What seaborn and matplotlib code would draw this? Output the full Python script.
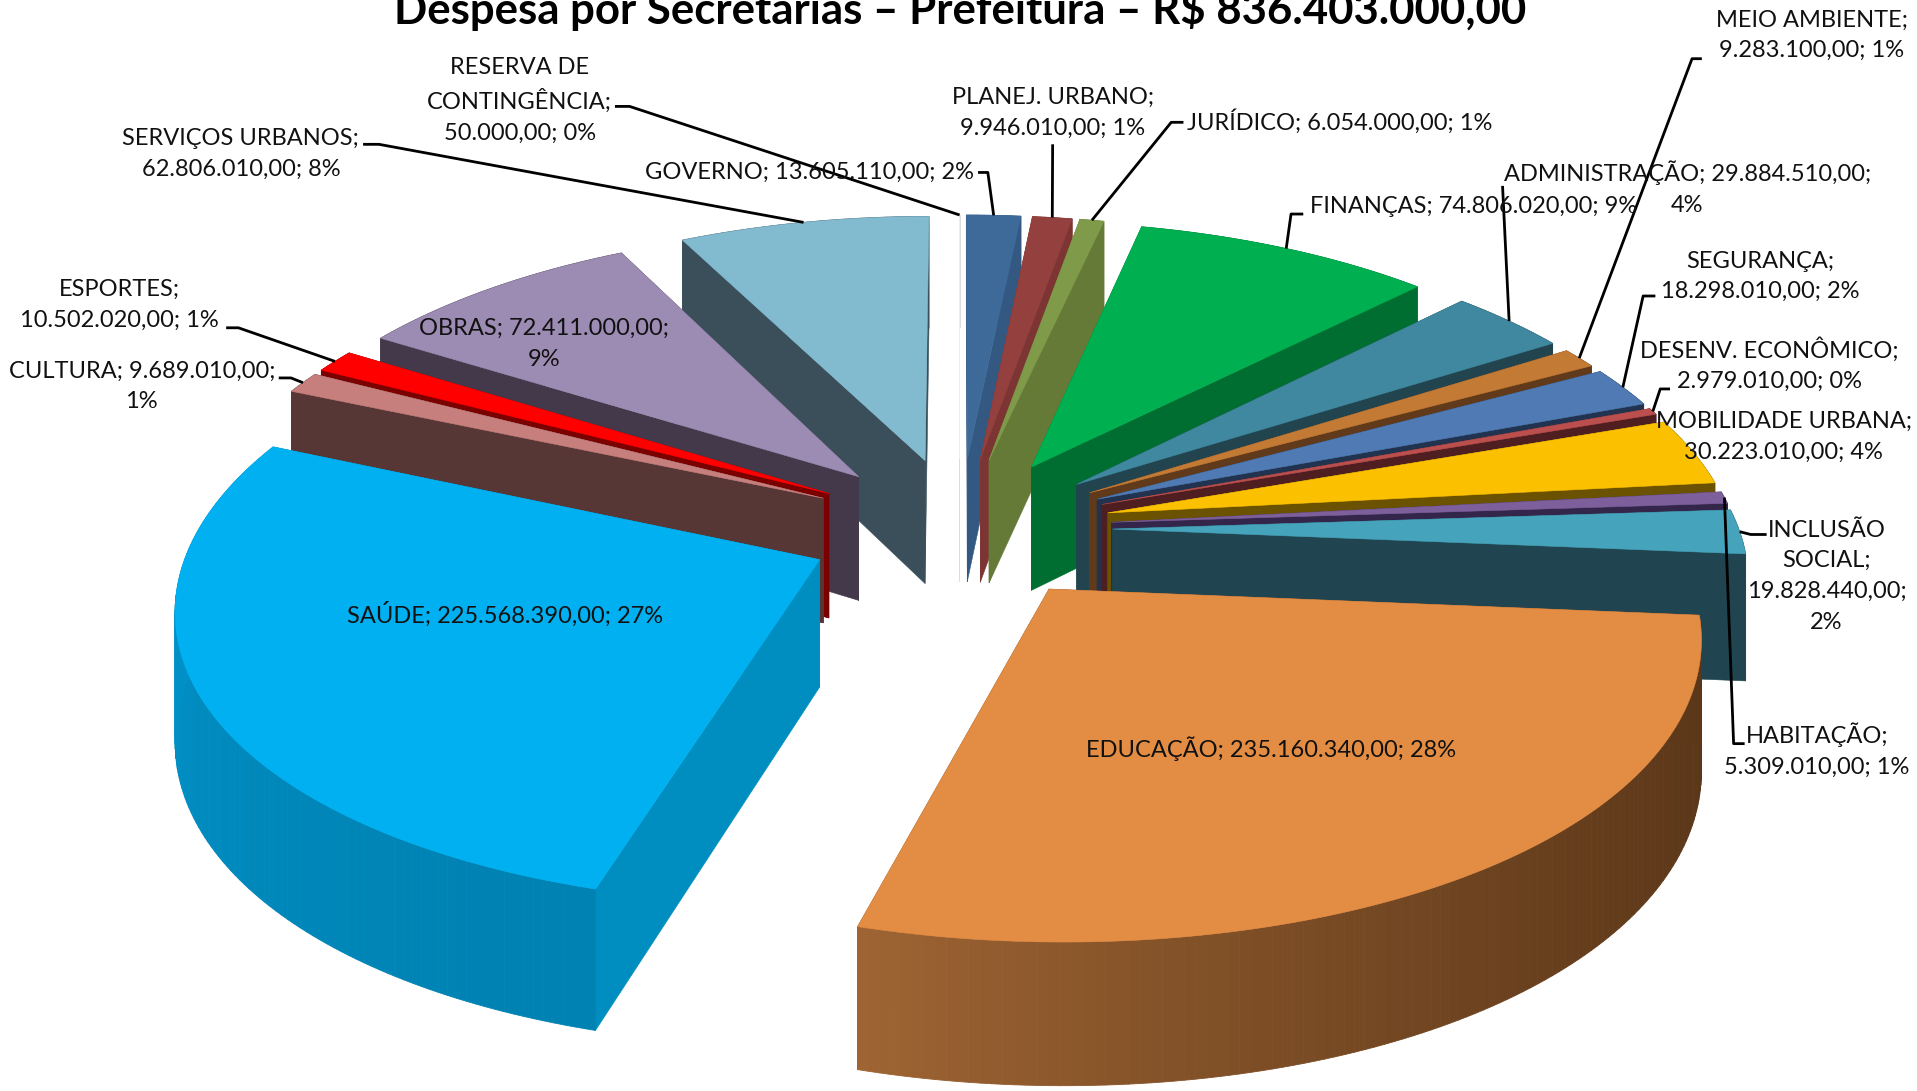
import numpy as np
import pandas as pd
import matplotlib
matplotlib.use("Agg")
import matplotlib.pyplot as plt
from matplotlib.colors import to_rgb
import seaborn as sns

# ---------- data ----------
categories = ["GOVERNO", "PLANEJ. URBANO", "JURÍDICO", "FINANÇAS", "ADMINISTRAÇÃO", "MEIO AMBIENTE",
              "SEGURANÇA", "DESENV. ECONÔMICO", "MOBILIDADE URBANA", "HABITAÇÃO", "INCLUSÃO SOCIAL",
              "EDUCAÇÃO", "SAÚDE", "CULTURA", "ESPORTES", "OBRAS", "SERVIÇOS URBANOS",
              "RESERVA DE CONTINGÊNCIA"]
values = [13605110, 9946010, 6054000, 74806020, 29884510, 9283100, 18298010, 2979010, 30223010,
          5309010, 19828440, 235160340, 225568390, 9689010, 10502020, 72411000, 62806010, 50000]
value_labels = ["13.605.110,00", "9.946.010,00", "6.054.000,00", "74.806.020,00", "29.884.510,00",
                "9.283.100,00", "18.298.010,00", "2.979.010,00", "30.223.010,00", "5.309.010,00",
                "19.828.440,00", "235.160.340,00", "225.568.390,00", "9.689.010,00", "10.502.020,00",
                "72.411.000,00", "62.806.010,00", "50.000,00"]
percents = ["2%", "1%", "1%", "9%", "4%", "1%", "2%", "0%", "4%", "1%", "2%", "28%", "27%", "1%", "1%", "9%", "8%", "0%"]
title = "Despesa por Secretarias – Prefeitura – R$ 836.403.000,00"

top_colors = ["#3E6A99", "#93403E", "#7F9A48", "#00B050", "#3F889F", "#C27A35", "#4F7AB3", "#BA4F4D", "#FBC000",
              "#7D5F9B", "#46A3BC", "#E38C43", "#00B0F0", "#C77F7D", "#FF0000", "#9C8BB3", "#82BAD0", "#EFEDED"]
wall_colors = ["#335982", "#7D3533", "#667A38", "#006E31", "#21444F", "#613A1B", "#21334F", "#4F1E20", "#6B5200",
               "#33264A", "#204550", "#7A4D25", "#008DBF", "#573636", "#7B0000", "#43394B", "#3A4F59", "#DDDBDB"]
rim_gradient = {"EDUCAÇÃO": ("#5A3618", "#9E6433", 1.8), "SAÚDE": ("#0082B2", "#0098D2", 1.3)}

# layout of the labels (in the 1568 x 892 frame)
label_text = {
    "GOVERNO": "GOVERNO; {v}; {p}", "PLANEJ. URBANO": "PLANEJ. URBANO;\n{v}; {p}", "JURÍDICO": "JURÍDICO; {v}; {p}",
    "FINANÇAS": "FINANÇAS; {v}; {p}", "ADMINISTRAÇÃO": "ADMINISTRAÇÃO; {v};\n{p}", "MEIO AMBIENTE": "MEIO AMBIENTE;\n{v}; {p}",
    "SEGURANÇA": "SEGURANÇA;\n{v}; {p}", "DESENV. ECONÔMICO": "DESENV. ECONÔMICO;\n{v}; {p}",
    "MOBILIDADE URBANA": "MOBILIDADE URBANA;\n{v}; {p}", "HABITAÇÃO": "HABITAÇÃO;\n{v}; {p}",
    "INCLUSÃO SOCIAL": "INCLUSÃO\nSOCIAL;\n{v};\n{p}", "EDUCAÇÃO": "EDUCAÇÃO; {v}; {p}", "SAÚDE": "SAÚDE; {v}; {p}",
    "CULTURA": "CULTURA; {v};\n{p}", "ESPORTES": "ESPORTES;\n{v}; {p}", "OBRAS": "OBRAS; {v};\n{p}",
    "SERVIÇOS URBANOS": "SERVIÇOS URBANOS;\n{v}; {p}", "RESERVA DE CONTINGÊNCIA": "RESERVA DE\nCONTINGÊNCIA;\n{v}; {p}",
}
label_xy = [(662, 141), (861, 92), (1096, 99), (1205, 169), (1380, 154), (1482, 29), (1440, 226), (1447, 298),
            (1459, 357), (1486, 613), (1494, 471), (1040, 612), (413, 502), (116, 316), (98, 249), (445, 281),
            (197, 126), (425, 82)]
leader_elbows = {
    "GOVERNO": [(800, 141), (808, 141)], "PLANEJ. URBANO": [(861, 118)], "JURÍDICO": [(968, 100), (958, 100)],
    "FINANÇAS": [(1066, 175), (1056, 175)], "ADMINISTRAÇÃO": [(1229, 152)], "MEIO AMBIENTE": [(1392, 48), (1384, 48)],
    "SEGURANÇA": [(1354, 242), (1344, 242)], "DESENV. ECONÔMICO": [(1366, 318), (1358, 318)],
    "HABITAÇÃO": [(1427, 608), (1418, 608)], "INCLUSÃO SOCIAL": [(1445, 437), (1432, 437)],
    "CULTURA": [(228, 309), (238, 309)], "ESPORTES": [(185, 268), (195, 268)],
    "SERVIÇOS URBANOS": [(297, 118), (310, 118)], "RESERVA DE CONTINGÊNCIA": [(503, 87), (515, 87)],
}

# ---------- projection parameters ----------
CX, CY = 785.0, 432.0
RADIUS, EXPLODE = 512.0, 125.0
TILT, PERSP_X, PERSP_Y, CURVE, DEPTH = 0.47, 0.00027, 0.0002, 2.3e-5, 103.0


def project(wx, wy, bottom=False):
    wh = 1.0 + PERSP_Y * wy
    sx = CX + wx / (1.0 + PERSP_X * wy)
    sy = CY - TILT * wy / wh + CURVE * wy * wy
    if bottom:
        sy = sy + DEPTH / wh
    return sx, sy


sns.set_theme(style="white")
plt.rcParams["font.family"] = ["Lato", "DejaVu Sans"]

df = pd.DataFrame({"sec": categories, "val": values, "vtxt": value_labels, "pct": percents,
                   "face": sns.color_palette(top_colors, len(top_colors)),
                   "wall": sns.color_palette(wall_colors, len(wall_colors))})
cum = np.cumsum([0] + values) / float(sum(values)) * 2 * np.pi
df["a0"], df["a1"] = cum[:-1], cum[1:]
df["mid"] = (df.a0 + df.a1) / 2
df["depth_key"] = np.cos(df.mid)

fig = plt.figure(figsize=(19.17, 10.91), dpi=100, facecolor="white")
ax = fig.add_axes([0, 0, 1, 1])
ax.set_xlim(0, 1568)
ax.set_ylim(892, 0)
ax.axis("off")


def mix(c1, c2, t):
    a, b = np.array(to_rgb(c1)), np.array(to_rgb(c2))
    return tuple(a + (b - a) * t)


z = 2.0
for _, s in df.sort_values("depth_key", ascending=False).iterrows():
    ex, ey = EXPLODE * np.sin(s.mid), EXPLODE * np.cos(s.mid)
    th = np.linspace(s.a0, s.a1, max(3, int((s.a1 - s.a0) / 0.015)))
    wx = ex + RADIUS * np.sin(th)
    wy = ey + RADIUS * np.cos(th)
    tx, ty = project(wx, wy)
    bx, by = project(wx, wy, True)
    ax0, ay0 = project(ex, ey)
    bx0, by0 = project(ex, ey, True)
    # radial walls
    for j in (0, -1):
        ax.fill([ax0, tx[j], bx[j], bx0], [ay0, ty[j], by[j], by0], facecolor=s.wall, edgecolor=s.wall, lw=0.4, zorder=z)
        z += 0.01
    # outer rim wall, split into small quads for the shading
    grad = rim_gradient.get(s.sec)
    for i in range(len(th) - 1):
        col = s.wall if grad is None else mix(grad[0], grad[1], (i / (len(th) - 2)) ** grad[2])
        ax.fill([tx[i], tx[i + 1], bx[i + 1], bx[i]], [ty[i], ty[i + 1], by[i + 1], by[i]],
                facecolor=col, edgecolor=col, lw=0.6, zorder=z)
    z += 0.01
    # top face
    ax.fill(np.r_[ax0, tx], np.r_[ay0, ty], facecolor=s.face, edgecolor=s.face, lw=0.4, zorder=z)
    z += 0.01

# labels and leader lines
for (i, s), (lx, ly) in zip(df.iterrows(), label_xy):
    txt = label_text[s.sec].format(v=s.vtxt, p=s.pct)
    ax.text(lx, ly, txt, ha="center", va="center", fontsize=17.0, color="#111111", linespacing=1.57, zorder=50)
    if s.sec in leader_elbows:
        ex, ey = EXPLODE * np.sin(s.mid), EXPLODE * np.cos(s.mid)
        ex2, ey2 = project(ex + RADIUS * np.sin(s.mid), ey + RADIUS * np.cos(s.mid))
        pts = leader_elbows[s.sec] + [(ex2, ey2)]
        ax.plot([p[0] for p in pts], [p[1] for p in pts], color="black", lw=2.0, zorder=40, solid_capstyle="butt")

ax.text(785, 7, title, ha="center", va="center", fontsize=31.5, fontweight="bold", color="black", zorder=60)

fig.savefig("out.png", dpi=100, facecolor="white")
